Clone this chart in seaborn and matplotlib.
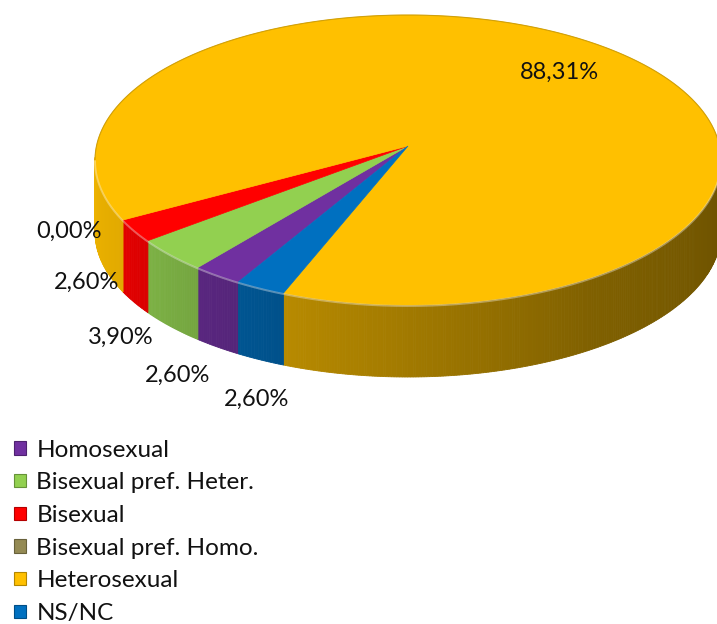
import numpy as np
import matplotlib
matplotlib.use("Agg")
import matplotlib.pyplot as plt
from matplotlib.patches import Polygon, Patch
from matplotlib.colors import to_rgb
import seaborn as sns

# Survey answers: sexual orientation (percent of respondents)
categories = ["Homosexual", "Bisexual pref. Heter.", "Bisexual",
              "Bisexual pref. Homo.", "Heterosexual", "NS/NC"]
shares = [2.60, 3.90, 2.60, 0.00, 88.31, 2.60]
slice_colors = ["#7030A0", "#92D050", "#FF0000", "#948A54", "#FFC000", "#0070C0"]

sns.set_theme(style="white")
plt.rcParams["font.family"] = ["Lato", "DejaVu Sans"]

fig = plt.figure(figsize=(7.17, 6.24), dpi=100)
ax = fig.add_axes([0, 0, 1, 1])
ax.set_xlim(0, 717)
ax.set_ylim(624, 0)
ax.axis("off")

# geometry of the tilted disc (pixel-like units, y grows downward)
cx, cy, rx, ry = 408, 160, 313, 145
apex_lift = 14          # perspective: the centre point sits a little above the ellipse centre
depth = 72              # thickness of the disc
start_angle = -122.8    # where the first slice begins; slices run clockwise


def rim(theta, drop=0.0):
    t = np.radians(theta)
    return cx + rx * np.cos(t), cy - ry * np.sin(t) + drop


def side_shade(theta):
    u = ((theta % 360) - 180) / 180.0   # 0 at the left, 1 at the right of the front face
    return np.interp(u, [0, 0.15, 0.37, 0.7, 1.0], [0.93, 0.88, 0.72, 0.5, 0.42])


fractions = np.asarray(shares) / np.sum(shares)
edges = start_angle - 360 * np.concatenate([[0], np.cumsum(fractions)])

# --- front wall of the disc
step = 0.5
for i, col in enumerate(slice_colors):
    a0, a1 = edges[i], edges[i + 1]
    if a0 - a1 <= 0:
        continue
    base = np.array(to_rgb(col))
    thetas = np.arange(a0, a1 - 1e-9, -step)
    thetas = np.append(thetas, a1)
    for t0, t1 in zip(thetas[:-1], thetas[1:]):
        tm = 0.5 * (t0 + t1)
        if np.sin(np.radians(tm)) > 0.02:
            continue
        shade = np.clip(base * side_shade(tm), 0, 1)
        x0, y0 = rim(t0)
        x1, y1 = rim(t1)
        quad = [(x0, y0), (x1, y1), (x1, y1 + depth), (x0, y0 + depth)]
        ax.add_patch(Polygon(quad, closed=True, facecolor=shade,
                             edgecolor=shade, linewidth=0.6, zorder=2))

# --- top faces
apex = (cx, cy - apex_lift)
for i, col in enumerate(slice_colors):
    a0, a1 = edges[i], edges[i + 1]
    if a0 - a1 <= 0:
        continue
    n = max(int((a0 - a1) / 0.5), 2)
    ts = np.linspace(a0, a1, n)
    xs, ys = rim(ts)
    pts = [apex] + list(zip(xs, ys))
    ax.add_patch(Polygon(pts, closed=True, facecolor=col, edgecolor=col,
                         linewidth=0.5, zorder=3))

# thin darker outline on the far rim, soft bevel highlight on the near rim
ts = np.linspace(0, 180, 400)
fx, fy = rim(ts)
ax.plot(fx, fy, color="#B08600", alpha=0.6, linewidth=0.8, zorder=4)
ts = np.linspace(-180, 0, 400)
hx, hy = rim(ts)
ax.plot(hx, hy + 1.0, color="white", alpha=0.35, linewidth=1.4, zorder=4)

# --- percentage labels
label_pos = [(178, 375), (121, 337), (87, 282), (69, 231), (559, 72), (257, 399)]
for v, (lx, ly) in zip(shares, label_pos):
    ax.text(lx, ly, f"{v:.2f}%".replace(".", ","), ha="center", va="center",
            fontsize=17, color="#111111", zorder=6)

# --- legend
handles = []
for col in slice_colors:
    edge = np.clip(np.array(to_rgb(col)) * 0.7, 0, 1)
    handles.append(Patch(facecolor=col, edgecolor=edge, linewidth=0.8))
leg = ax.legend(handles, categories, loc="upper left", bbox_to_anchor=(0.0095, 0.307),
                frameon=False, fontsize=17.5, handlelength=0.47, handleheight=0.47,
                handletextpad=0.45, labelspacing=0.48, borderaxespad=0, borderpad=0.3)
for t in leg.get_texts():
    t.set_color("#111111")

fig.savefig("out.png", dpi=100)
